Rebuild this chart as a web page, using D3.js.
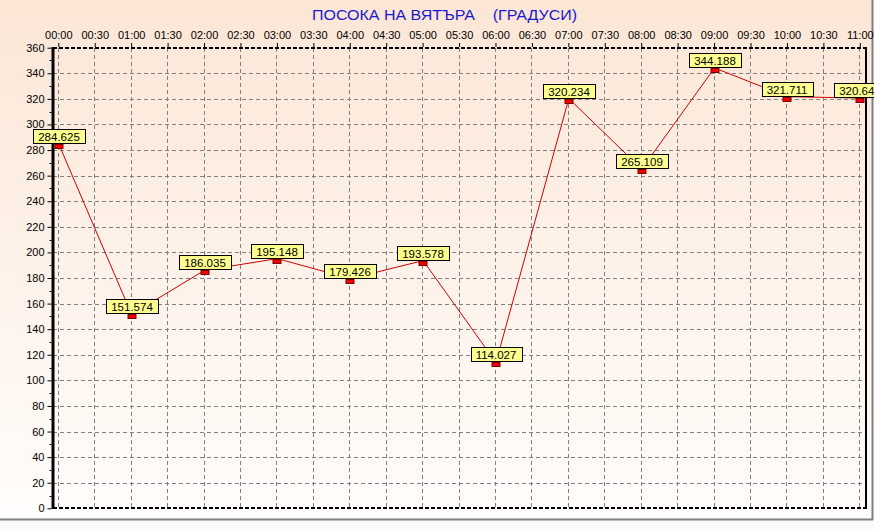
<!DOCTYPE html>
<html><head><meta charset="utf-8">
<script src="https://cdn.jsdelivr.net/npm/d3@7"></script>
<style>html,body{margin:0;padding:0;background:#fff;}svg{display:block;}</style>
</head><body>
<svg id="c" width="874" height="529"></svg>
<script>
const title = "ПОСОКА НА ВЯТЪРА    (ГРАДУСИ)";
const timeLabels = ["00:00","00:30","01:00","01:30","02:00","02:30","03:00","03:30","04:00","04:30","05:00","05:30","06:00","06:30","07:00","07:30","08:00","08:30","09:00","09:30","10:00","10:30","11:00"];
const pointTimes = ["00:00","01:00","02:00","03:00","04:00","05:00","06:00","07:00","08:00","09:00","10:00","11:00"];
const pointValues = [284.625,151.574,186.035,195.148,179.426,193.578,114.027,320.234,265.109,344.188,321.711,320.648];
const yTicks = [0,20,40,60,80,100,120,140,160,180,200,220,240,260,280,300,320,340,360];

const svg = d3.select("#c");
const defs = svg.append("defs");
const grad = defs.append("linearGradient").attr("id","bg").attr("x1",0).attr("y1",0).attr("x2",0).attr("y2",1);
grad.append("stop").attr("offset","0%").attr("stop-color","#fce6d6");
grad.append("stop").attr("offset","100%").attr("stop-color","#fffdfb");

svg.append("rect").attr("x",0).attr("y",0).attr("width",874).attr("height",529).attr("fill","#fafafa");
svg.append("rect").attr("x",0).attr("y",0).attr("width",872).attr("height",519).attr("fill","url(#bg)");
svg.append("line").attr("x1",0).attr("x2",873).attr("y1",519.5).attr("y2",519.5).attr("stroke","#808080").attr("stroke-width",2);
svg.append("line").attr("x1",872.5).attr("x2",872.5).attr("y1",0).attr("y2",520).attr("stroke","#808080").attr("stroke-width",2);

const font = "'Liberation Sans', Arial, sans-serif";
const x = d3.scaleLinear().domain([0,22]).range([58.8,860.3]);
const xi = t => timeLabels.indexOf(t);
const y = d3.scaleLinear().domain([0,360]).range([508.3,47.7]);

const L=53, R=866, T=48, B=508;

// grid
const g = svg.append("g");
g.selectAll("line.v").data(timeLabels).enter().append("line")
  .attr("x1",(d,i)=>Math.round(x(i))-0.5).attr("x2",(d,i)=>Math.round(x(i))-0.5)
  .attr("y1",T).attr("y2",B).attr("stroke","#808080").attr("stroke-dasharray","4,3");
g.selectAll("line.h").data(yTicks.filter(v=>v>0&&v<360)).enter().append("line")
  .attr("x1",L).attr("x2",R).attr("y1",d=>Math.round(y(d))+0.5).attr("y2",d=>Math.round(y(d))+0.5)
  .attr("stroke","#808080").attr("stroke-dasharray","4,3");

// borders
svg.append("line").attr("x1",L).attr("x2",R).attr("y1",T).attr("y2",T).attr("stroke","#000").attr("stroke-width",2).attr("stroke-dasharray","4,2");
svg.append("line").attr("x1",L).attr("x2",R).attr("y1",B).attr("y2",B).attr("stroke","#000").attr("stroke-width",2).attr("stroke-dasharray","4,2");
svg.append("line").attr("x1",R).attr("x2",R).attr("y1",T-1).attr("y2",B+1).attr("stroke","#000").attr("stroke-width",2);
svg.append("line").attr("x1",L).attr("x2",L).attr("y1",T-1).attr("y2",B+1).attr("stroke","#000").attr("stroke-width",3);

// y axis
const yAxis = d3.axisLeft(y).tickValues(yTicks).tickSize(4).tickPadding(3).tickSizeOuter(0);
const ya = svg.append("g").attr("transform",`translate(${L-1.5},0)`).call(yAxis);
ya.select(".domain").remove();
ya.selectAll("text").attr("font-family",font).attr("font-size","11px").attr("fill","#000");
ya.selectAll("line").attr("stroke","#000");
// minor y ticks
svg.append("g").selectAll("line").data(d3.range(10,360,20)).enter().append("line")
  .attr("x1",L-3.5).attr("x2",L-1.5).attr("y1",d=>Math.round(y(d))+0.5).attr("y2",d=>Math.round(y(d))+0.5).attr("stroke","#000");

// x axis (top)
const xAxis = d3.axisTop(x).tickValues(d3.range(timeLabels.length)).tickFormat(i=>timeLabels[i]).tickSize(4).tickPadding(4).tickSizeOuter(0);
const xa = svg.append("g").attr("transform",`translate(-0.5,${T-1})`).call(xAxis);
xa.select(".domain").remove();
xa.selectAll("text").attr("font-family",font).attr("font-size","11px").attr("fill","#000");
xa.selectAll("line").attr("stroke","#000");

// title
svg.append("text").attr("x",312).attr("y",19.5)
  .attr("font-family",font).attr("font-size","14.5px").attr("fill","#1a1acc")
  .attr("textLength",265).attr("lengthAdjust","spacingAndGlyphs")
  .attr("xml:space","preserve").style("white-space","pre").text(title);

// line
const pts = pointTimes.map((t,i)=>[x(xi(t)), y(pointValues[i])]);
svg.append("path").attr("d",d3.line()(pts)).attr("fill","none").attr("stroke","#d00000").attr("stroke-width",1);

// markers
svg.append("g").selectAll("rect").data(pts).enter().append("rect")
  .attr("x",d=>Math.round(d[0])-4).attr("y",d=>Math.round(d[1])+0.5).attr("width",8).attr("height",4)
  .attr("fill","#ee0000").attr("stroke","#800000").attr("stroke-width",1);

// labels
const lg = svg.append("g");
pointValues.forEach((v,i)=>{
  const px = Math.round(pts[i][0]), py = Math.round(pts[i][1]);
  const s = v.toFixed(3);
  const grp = lg.append("g");
  const t = grp.append("text").attr("x",px).attr("y",py-3.5).attr("text-anchor","middle")
    .attr("font-family",font).attr("font-size","11.5px").attr("fill","#000").text(s);
  const w = t.node().getComputedTextLength();
  grp.insert("rect","text").attr("x",Math.round(px-w/2-5)+0.5).attr("y",py-14.5).attr("width",Math.round(w+10)).attr("height",14)
    .attr("fill","#ffff90").attr("stroke","#000").attr("stroke-width",1);
});
</script>
</body></html>
